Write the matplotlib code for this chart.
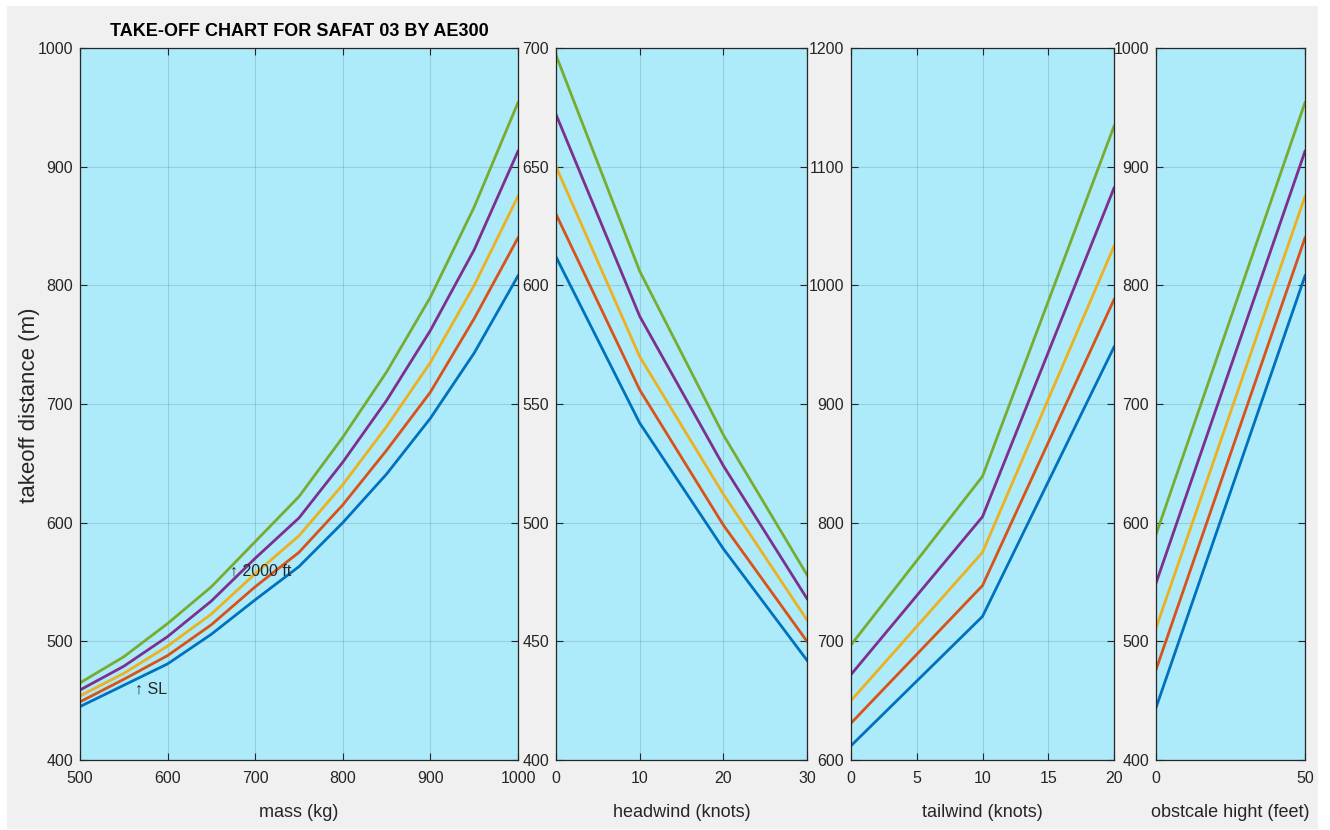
import matplotlib
matplotlib.use("Agg")
import matplotlib.pyplot as plt
from matplotlib.patches import Rectangle

plt.rcParams["font.family"] = ["Liberation Sans", "DejaVu Sans"]

# altitude curves, sea level first, 2000 ft last
COLORS = ["#0072BD", "#D95319", "#EDB120", "#7E2F8E", "#77AC30"]

mass_kg = [500, 550, 600, 650, 700, 750, 800, 850, 900, 950, 1000]
mass_dist = [
    [445, 463, 481, 506, 535, 563, 600, 641, 688, 743, 808],
    [449, 468, 488, 514, 546, 575, 615, 661, 710, 772, 840],
    [454, 473, 496, 523, 557, 589, 632, 681, 735, 800, 875],
    [459, 479, 504, 534, 570, 604, 651, 703, 762, 830, 913],
    [465, 487, 515, 546, 584, 622, 672, 727, 790, 866, 954],
]

headwind_kt = [0, 10, 20, 30]
headwind_dist = [
    [612, 542, 489, 442],
    [630, 556, 499, 450],
    [650, 570, 512, 459],
    [672, 587, 524, 468],
    [697, 606, 537, 478],
]

tailwind_kt = [0, 10, 20]
tailwind_dist = [
    [612, 721, 948],
    [631, 747, 988],
    [650, 775, 1033],
    [672, 805, 1082],
    [697, 839, 1134],
]

obstacle_ft = [0, 50]
obstacle_dist = [
    [444, 808],
    [476, 840],
    [511, 875],
    [549, 913],
    [590, 954],
]

W, H = 1330, 830
INK = "#262626"
fig = plt.figure(figsize=(W / 100, H / 100), dpi=100, facecolor="white")
fig.add_artist(Rectangle((7 / W, 1 - 829 / H), (1318 - 7) / W, (829 - 6) / H,
                         transform=fig.transFigure, facecolor="#F0F0F0",
                         edgecolor="none", zorder=-10))


def px_axes(left, right, top, bottom):
    return fig.add_axes([left / W, 1 - bottom / H, (right - left) / W, (bottom - top) / H])


def style(ax, xlim, ylim, xticks, yticks, xlabel):
    ax.set_facecolor("#ADEBFA")
    ax.set_xlim(*xlim)
    ax.set_ylim(*ylim)
    ax.set_xticks(xticks)
    ax.set_yticks(yticks)
    ax.grid(True, color=INK, alpha=0.15, linewidth=0.8)
    ax.set_axisbelow(True)
    ax.tick_params(direction="in", top=True, right=True, length=5, width=0.8,
                   colors=INK, labelsize=11.5)
    ax.tick_params(axis="x", pad=8)
    ax.tick_params(axis="y", pad=5)
    for sp in ax.spines.values():
        sp.set_color(INK)
        sp.set_linewidth(0.9)
    ax.set_xlabel(xlabel, fontsize=13, color=INK, labelpad=13)


ax1 = px_axes(80, 518, 48, 760)
ax2 = px_axes(556, 807, 48, 760)
ax3 = px_axes(851, 1114, 48, 760)
ax4 = px_axes(1156, 1305, 48, 760)

for i in range(5):
    ax1.plot(mass_kg, mass_dist[i], color=COLORS[i], lw=2)
    ax2.plot(headwind_kt, headwind_dist[i], color=COLORS[i], lw=2)
    ax3.plot(tailwind_kt, tailwind_dist[i], color=COLORS[i], lw=2)
    ax4.plot(obstacle_ft, obstacle_dist[i], color=COLORS[i], lw=2)

style(ax1, (500, 1000), (400, 1000), range(500, 1001, 100), range(400, 1001, 100), "mass (kg)")
style(ax2, (0, 30), (400, 700), [0, 10, 20, 30], range(400, 701, 50), "headwind (knots)")
style(ax3, (0, 20), (600, 1200), [0, 5, 10, 15, 20], range(600, 1201, 100), "tailwind (knots)")
style(ax4, (0, 50), (400, 1000), [0, 50], range(400, 1001, 100), "obstcale hight (feet)")

ax1.text(563, 460, "\u2191 SL", fontsize=11.5, va="center", color=INK)
ax1.text(671, 559, "\u2191 2000 ft", fontsize=11.5, va="center", color=INK)

fig.text(30 / W, 1 - 405 / H, "takeoff distance (m)", rotation=90,
         ha="center", va="center", fontsize=16, color=INK)
fig.text(299 / W, 1 - 31 / H, "TAKE-OFF CHART FOR SAFAT 03 BY AE300",
         ha="center", va="center", fontsize=13, fontweight="bold", color="black")

fig.savefig("out.png", dpi=100, facecolor=fig.get_facecolor())
plt.close(fig)
